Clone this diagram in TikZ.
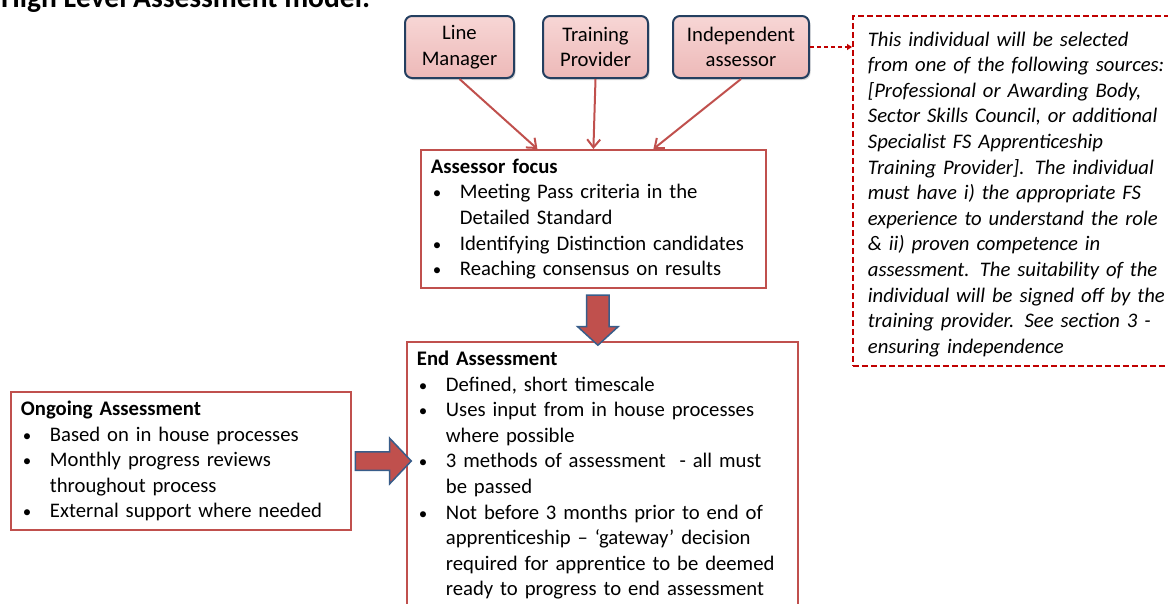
\documentclass[tikz,border=0pt]{standalone}
\usepackage{fontspec}
\setmainfont{Carlito}
\usetikzlibrary{positioning,calc,shapes.arrows,shadows,arrows.meta}

\definecolor{boxred}{HTML}{C0504D}
\definecolor{roleedge}{HTML}{243F60}
\definecolor{roletop}{HTML}{F7D6D5}
\definecolor{rolebottom}{HTML}{EDB9B8}
\definecolor{arrowblue}{HTML}{385D8A}
\definecolor{notered}{HTML}{C00000}

\newcommand*\textsize{\fontsize{20.7}{25.6}\selectfont}
\newcommand*\bitem{\makebox[29pt][l]{\hspace{2pt}{\fontsize{17}{17}\selectfont\textbullet}}}
\newcommand*\bcont{\hspace*{29pt}}

\tikzset{
  headline/.style={anchor=base west, inner sep=0pt, font=\fontsize{29.5}{32}\selectfont\bfseries},
  role/.style={
    draw=roleedge,
    line width=2pt,
    rounded corners=7pt,
    top color=roletop,
    bottom color=rolebottom,
    drop shadow={shadow xshift=1.5pt, shadow yshift=-2pt, fill=black!30},
    anchor=north west,
    minimum width=#1,
    minimum height=62pt,
    inner sep=0pt,
    align=center,
    font=\textsize
  },
  stage/.style={
    draw=boxred,
    line width=1.8pt,
    anchor=north west,
    inner xsep=10pt,
    inner ysep=9pt,
    text width={#1-20pt},
    align=left,
    font=\textsize
  },
  note/.style={
    draw=notered,
    dash pattern=on 6pt off 3pt,
    line width=1.8pt,
    anchor=north west,
    inner xsep=15pt,
    text width=300pt,
    minimum height=350pt,
    align=left,
    font=\textsize\itshape
  },
  feed/.style={draw=boxred, line width=2pt, -{Straight Barb[length=8pt,width=13pt]}},
  link/.style={draw=notered, dash pattern=on 4pt off 3pt, line width=1.3pt, -{Triangle[length=5pt,width=6pt]}},
  block/.style={
    single arrow,
    draw=arrowblue,
    fill=boxred,
    line width=1.5pt,
    single arrow head indent=0pt
  }
}

\begin{document}
\begin{tikzpicture}[x=1pt,y=-1pt]
  \path[use as bounding box, clip] (0,0) rectangle (1168,603);

  % The heading, mostly cut off at the top.
  \node[headline] (heading) at (1,7) {High Level Assessment model:};

  % The three people who feed into the assessment.
  \node[role=109] (linemgr) at (404,15) {Line\\Manager};
  \node[role=105] (trainer) at (542,15) {Training\\Provider};
  \node[role=136] (indep) at (672,15) {Independent\\assessor};

  % Note on how the independent assessor is chosen.
  \node[note] (choice) at (852,15) {\rule{0pt}{21pt}This individual will be selected\\
    from one of the following sources:\\
    {[}Professional or Awarding Body,\\
    Sector Skills Council, or additional\\
    Specialist FS Apprenticeship\\
    Training Provider]. The individual\\
    must have i) the appropriate FS\\
    experience to understand the role\\
    \& ii) proven competence in\\
    assessment. The suitability of the\\
    individual will be signed off by the\\
    training provider. See section 3 -\\
    ensuring independence};

  % The assessment stages.
  \node[stage=345] (focus) at (420,149) {\textbf{Assessor focus}\\
    \bitem Meeting Pass criteria in the\\
    \bcont Detailed Standard\\
    \bitem Identifying Distinction candidates\\
    \bitem Reaching consensus on results};

  \node[stage=391] (endbox) at (406,341) {\textbf{End Assessment}\\
    \bitem Defined, short timescale\\
    \bitem Uses input from in house processes\\
    \bcont where possible\\
    \bitem 3 methods of assessment\ \ - all must\\
    \bcont be passed\\
    \bitem Not before 3 months prior to end of\\
    \bcont apprenticeship -- `gateway' decision\\
    \bcont required for apprentice to be deemed\\
    \bcont ready to progress to end assessment};

  \node[stage=340] (ongoing) at (10,391) {\textbf{Ongoing Assessment}\\
    \bitem Based on in house processes\\
    \bitem Monthly progress reviews\\
    \bcont throughout process\\
    \bitem External support where needed};

  % Connectors.
  \draw[feed] (linemgr.south) -- ([xshift=-56pt]focus.north);
  \draw[feed] (trainer.south) -- (focus.north);
  \draw[feed] (indep.south) -- ([xshift=60pt]focus.north);
  \draw[link] (indep.east) -- (indep.east -| choice.west);

  % Block arrows between the stages.
  \node[block, rotate=-90, minimum height=50pt, inner sep=10.5pt,
        single arrow head extend=9pt, single arrow tip angle=95] (down)
        at ($(focus.south)!0.5!(endbox.north)$) {};
  \node[block, minimum height=56pt, inner sep=8.5pt,
        single arrow head extend=13.5pt, single arrow tip angle=93] (across)
        at ($(ongoing.east)!0.5!(ongoing.east -| endbox.west)$) {};
\end{tikzpicture}
\end{document}
